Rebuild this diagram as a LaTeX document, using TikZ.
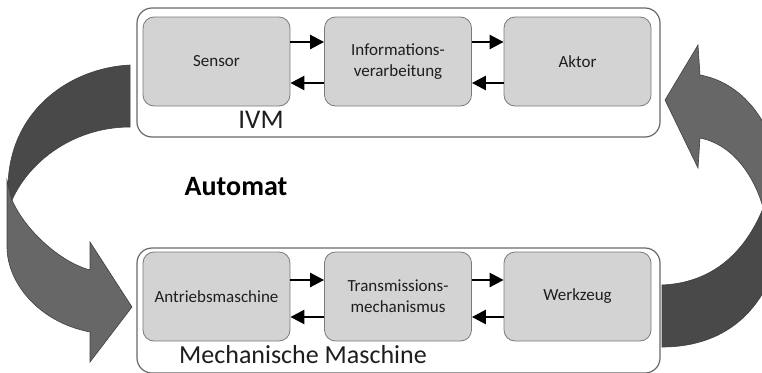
\documentclass[tikz,border=0pt]{standalone}
\usepackage{fontspec}
\setmainfont{Carlito}
\usetikzlibrary{arrows.meta}
\definecolor{boxgray}{HTML}{D3D3D3}
\definecolor{partline}{HTML}{7A7A7A}
\definecolor{framegray}{HTML}{686868}
\definecolor{textgray}{HTML}{1E1E1E}
\definecolor{backarrow}{HTML}{494949}
\definecolor{frontarrow}{HTML}{676767}

\begin{document}
\begin{tikzpicture}[x=1pt, y=-1pt,
  outer/.style={draw=framegray, line width=1.2pt, rounded corners=15pt, fill=white, minimum width=523pt, inner sep=0pt},
  part/.style={draw=partline, line width=0.8pt, rounded corners=11pt, fill=boxgray, minimum width=147pt, minimum height=89pt, inner sep=0pt, align=center, text=textgray, font=\fontsize{17}{21}\selectfont},
  flow/.style={line width=2.6pt, -{Triangle[length=14pt,width=14pt]}},
  bigarrow/.style={draw=black!75, line width=0.6pt}]
%% the page is exactly the size of the picture, everything outside is cut away
\useasboundingbox (0,0) rectangle (762,372);
\clip (0,0) rectangle (762,372);

%% left curved arrow: the back part is darker, the front part carries the head
    \fill[bigarrow, fill=frontarrow] (7,180) -- (7,247) .. controls (7,282) and (38,322) .. (90,332) -- (90,362) -- (132,307) -- (90,242) -- (90,270) .. controls (60,262) and (25,230) .. (12,200) -- cycle;
    \fill[bigarrow, fill=backarrow] (130,65) .. controls (70,68) and (10,110) .. (8,185) -- (12,200) .. controls (30,160) and (75,127) .. (130,127) -- cycle;
%% right curved arrow, it runs out over the right edge
    \fill[bigarrow, fill=backarrow] (662,285) .. controls (710,283) and (748,255) .. (768,195) -- (782,240) .. controls (770,305) and (730,347) .. (662,347) -- cycle;
    \fill[bigarrow, fill=frontarrow] (665,100) -- (698,45) -- (700,75) .. controls (740,82) and (775,120) .. (780,180) -- (765,215) .. controls (757,180) and (735,145) .. (700,138) -- (698,168) -- cycle;

%% the two frames
    \node[outer, minimum height=129pt] (ivm) at (398.5,72.5) {};
    \node[outer, minimum height=125pt] (maschine) at (398.5,310.5) {};

%% upper row
    \node[part] (sensor) at (216.5,61.5) {Sensor};
    \node[part] (info) at (398,61.5) {Informations-\\verarbeitung};
    \node[part] (aktor) at (577.5,61.5) {Aktor};
%% lower row
    \node[part] (antrieb) at (216.5,296.5) {Antriebsmaschine};
    \node[part] (trans) at (398,296.5) {Transmissions-\\mechanismus};
    \node[part] (werkzeug) at (577.5,296.5) {Werkzeug};

%% connectors, one forward and one back between each pair
    \draw[flow] ([yshift=19.5pt]sensor.east) -- ([yshift=19.5pt]info.west);
    \draw[flow] ([yshift=-21.5pt]info.west) -- ([yshift=-21.5pt]sensor.east);
    \draw[flow] ([yshift=19.5pt]info.east) -- ([yshift=19.5pt]aktor.west);
    \draw[flow] ([yshift=-21.5pt]aktor.west) -- ([yshift=-21.5pt]info.east);
    \draw[flow] ([yshift=16.5pt]antrieb.east) -- ([yshift=16.5pt]trans.west);
    \draw[flow] ([yshift=-20.5pt]trans.west) -- ([yshift=-20.5pt]antrieb.east);
    \draw[flow] ([yshift=16.5pt]trans.east) -- ([yshift=16.5pt]werkzeug.west);
    \draw[flow] ([yshift=-20.5pt]werkzeug.west) -- ([yshift=-20.5pt]trans.east);

%% labels
    \node[text=textgray, font=\fontsize{27}{30}\selectfont] (ivmlabel) at (261,120) {IVM};
    \node[text=textgray, inner sep=1pt, font=\fontsize{26}{30}\selectfont] (maschinelabel) at (303,355) {Mechanische Maschine};
    \node[text=black, font=\fontsize{28}{32}\selectfont\bfseries] (automat) at (236,186.5) {Automat};
\end{tikzpicture}
\end{document}
